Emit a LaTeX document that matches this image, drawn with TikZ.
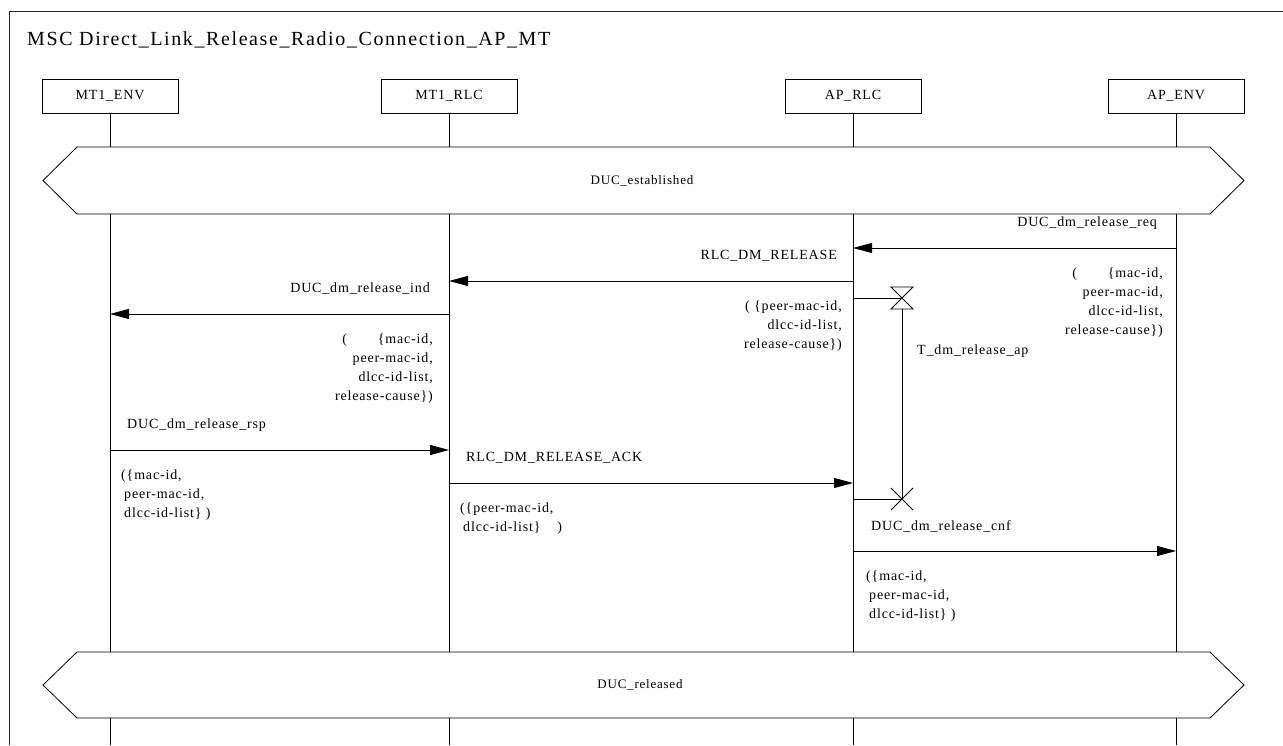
\documentclass[tikz,border=0pt]{standalone}
\usepackage{fontspec}
\setmainfont[LetterSpace=6]{Liberation Serif}
\newfontfamily\titlefont[LetterSpace=8]{Liberation Serif}
\usetikzlibrary{arrows.meta, positioning, calc}
\tikzset{
  every node/.style={font=\fontsize{14}{19}\selectfont},
  frame/.style={line width=0.9pt, black!85},
  inst/.style={draw, line width=0.8pt, minimum width=136pt, minimum height=34pt,
               inner sep=0pt},
  life/.style={line width=0.8pt},
  cond/.style={line width=0.8pt},
  condtext/.style={font=\fontsize{13}{16}\selectfont},
  msg/.style={-{Triangle[length=19pt,width=10pt]}, line width=0.8pt},
  lbl/.style={inner sep=0pt},
  params/.style={inner sep=0pt},
  timer/.style={line width=0.8pt}
}

\begin{document}
\begin{tikzpicture}[x=1pt,y=1pt]
\useasboundingbox (0,0) rectangle (1283,745);

% MSC frame and title
\draw[frame] (9,0) -- (9,734) -- (1283,734);
\node[anchor=west, inner sep=0pt, font=\titlefont\fontsize{20}{24}\selectfont] (title)
  at (27,705) {MSC Direct\_Link\_Release\_Radio\_Connection\_AP\_MT};

% Instance heads
\node[inst] (mtenv) at (110,649) {MT1\_ENV};
\node[inst] (mtrlc) at (449,649) {MT1\_RLC};
\node[inst] (aprlc) at (853,649) {AP\_RLC};
\node[inst] (apenv) at (1176,649) {AP\_ENV};

% Conditions
\coordinate (estT) at (0,598);
\coordinate (estB) at (0,531);
\coordinate (relT) at (0,93);
\coordinate (relB) at (0,27);
\coordinate (bot) at (0,0);
\draw[cond] (77,598) -- (1210,598) -- (1244,564.5) -- (1210,531) -- (77,531)
  -- (43,564.5) -- cycle;
\node[condtext] (est) at (642,564.5) {DUC\_established};
\draw[cond] (77,93) -- (1210,93) -- (1244,60) -- (1210,27) -- (77,27)
  -- (43,60) -- cycle;
\node[condtext] (rel) at (640,60) {DUC\_released};

% Lifelines
\foreach \i in {mtenv, mtrlc, aprlc, apenv} {
  \draw[life] (\i.south) -- (\i |- estT);
  \draw[life] (\i |- estB) -- (\i |- relT);
  \draw[life] (\i |- relB) -- (\i |- bot);
}

% Message rows
\coordinate (m1) at (0,497);
\coordinate (m2) at (0,464);
\coordinate (m3) at (0,431);
\coordinate (m4) at (0,295);
\coordinate (m5) at (0,262);
\coordinate (m6) at (0,194);

% DUC_dm_release_req
\draw[msg] (apenv |- m1) -- (aprlc |- m1);
\node[lbl, anchor=east] (reqlbl) at (1157,522) {DUC\_dm\_release\_req};
\node[params, anchor=north east, align=right] (reqpar) at (1163,477.5)
  {(\hspace{2.2em}\{mac-id,\\peer-mac-id,\\dlcc-id-list,\\release-cause\})};

% RLC_DM_RELEASE
\draw[msg] (aprlc |- m2) -- (mtrlc |- m2);
\node[lbl, anchor=east] (rellbl) at (837,489) {RLC\_DM\_RELEASE};
\node[params, anchor=north east, align=right] (relpar) at (842,444.5)
  {( \{peer-mac-id,\\dlcc-id-list,\\release-cause\})};

% DUC_dm_release_ind
\draw[msg] (mtrlc |- m3) -- (mtenv |- m3);
\node[lbl, anchor=east] (indlbl) at (430,456) {DUC\_dm\_release\_ind};
\node[params, anchor=north east, align=right] (indpar) at (433,411.5)
  {(\hspace{2.2em}\{mac-id,\\peer-mac-id,\\dlcc-id-list,\\release-cause\})};

% DUC_dm_release_rsp
\draw[msg] (mtenv |- m4) -- (mtrlc |- m4);
\node[lbl, anchor=west] (rsplbl) at (127,320) {DUC\_dm\_release\_rsp};
\node[params, anchor=north west, align=left] (rsppar) at (121,275.5)
  {(\{mac-id,\\\hspace{3pt}peer-mac-id,\\\hspace{3pt}dlcc-id-list\} )};

% RLC_DM_RELEASE_ACK
\draw[msg] (mtrlc |- m5) -- (aprlc |- m5);
\node[lbl, anchor=west] (acklbl) at (466,287) {RLC\_DM\_RELEASE\_ACK};
\node[params, anchor=north west, align=left] (ackpar) at (460,242.5)
  {(\{peer-mac-id,\\\hspace{3pt}dlcc-id-list\}\hspace{1.2em})};

% DUC_dm_release_cnf
\draw[msg] (aprlc |- m6) -- (apenv |- m6);
\node[lbl, anchor=west] (cnflbl) at (871,219) {DUC\_dm\_release\_cnf};
\node[params, anchor=north west, align=left] (cnfpar) at (866,174.5)
  {(\{mac-id,\\\hspace{3pt}peer-mac-id,\\\hspace{3pt}dlcc-id-list\} )};

% Timer T_dm_release_ap
\coordinate (tset) at (902,447);
\coordinate (texp) at (902,246);
\draw[timer] (aprlc |- tset) -- (tset);
\draw[timer] (tset) ++(-11,11) -- ++(22,0) -- ++(-22,-22) -- ++(22,0) -- cycle;
\draw[timer] ($(tset)+(0,-11)$) -- (texp);
\draw[timer] (aprlc |- texp) -- (texp);
\draw[timer] ($(texp)+(-11,11)$) -- ($(texp)+(11,-11)$);
\draw[timer] ($(texp)+(-11,-11)$) -- ($(texp)+(11,11)$);
\node[lbl, anchor=west] (tlbl) at (917,394) {T\_dm\_release\_ap};

\end{tikzpicture}
\end{document}
